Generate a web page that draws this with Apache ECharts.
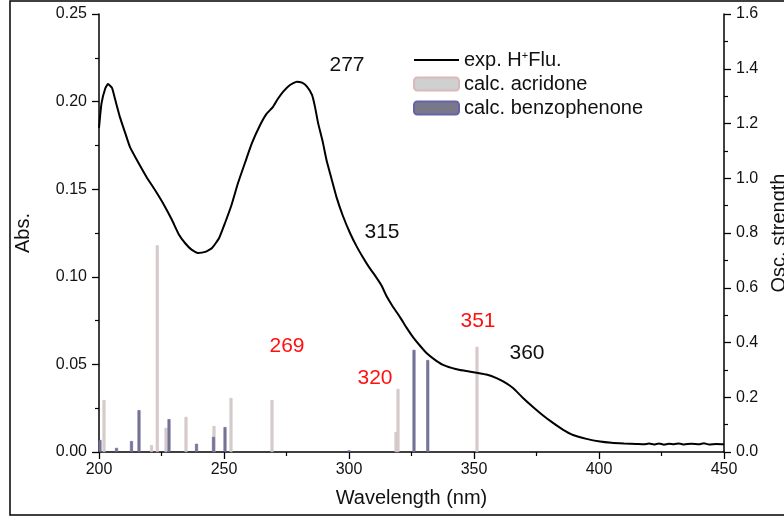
<!DOCTYPE html>
<html>
<head>
<meta charset="utf-8">
<script src="https://cdn.jsdelivr.net/npm/echarts@6/dist/echarts.min.js"></script>
<style>html,body{margin:0;padding:0;background:#fff;}#c{width:784px;height:519px;}</style>
</head>
<body>
<div id="c"></div>
<script>
// Experimental absorption spectrum (wavelength nm, Abs.)
const wavelengths = [200,201,202.5,203.6,205.2,206.5,208.4,210.5,212.4,215.6,219,222.4,226,229.2,232,234.4,237,239.6,242.5,245.2,248,250.4,253,255.6,258.5,261.2,264.4,267,269.6,271.5,273.6,276.4,279.1,281.2,283.2,285.2,286.4,287.6,289.5,291,293,295,297.5,300.4,303,305.6,308,310.5,313,315,317.5,320.4,323,325.6,328.5,331,334,337.6,341,344.4,348,351.6,355,359,362,365.6,369.5,373.6,377.5,381.6,385.5,389.6,395,400.4,405,410,415,418,420,422,424,426,428,430,432,434,437,440,442,444,447,450];
const absorbance  = [0.185,0.199,0.2075,0.210,0.2078,0.201,0.191,0.182,0.174,0.1655,0.157,0.1495,0.141,0.1324,0.124,0.1193,0.1155,0.1136,0.1142,0.1164,0.122,0.1307,0.141,0.1535,0.1655,0.1764,0.1865,0.193,0.197,0.2015,0.2056,0.2095,0.2114,0.2108,0.2085,0.2038,0.197,0.188,0.177,0.1667,0.156,0.1455,0.135,0.125,0.1175,0.111,0.1055,0.1005,0.095,0.089,0.083,0.077,0.071,0.0656,0.0605,0.0565,0.053,0.0497,0.048,0.0468,0.046,0.0451,0.0442,0.0422,0.040,0.0365,0.031,0.0257,0.021,0.0166,0.0128,0.0097,0.0075,0.006,0.0053,0.0049,0.0046,0.0044,0.0048,0.0043,0.0049,0.0042,0.0047,0.0044,0.0049,0.0043,0.0047,0.0044,0.0050,0.0043,0.0046,0.0044];

// Calculated transitions (wavelength nm, oscillator strength)
const acridoneNm  = [202,221,223.3,226.8,234.8,246,252.8,269.2,318.8,319.6,351.2];
const acridoneOsc = [0.19,0.025,0.755,0.088,0.128,0.095,0.197,0.19,0.073,0.23,0.384];
const benzoNm     = [200.4,207,213,216,228,239,245.8,250.4,300,326,331.5];
const benzoOsc    = [0.044,0.015,0.04,0.153,0.12,0.03,0.055,0.091,0.006,0.373,0.336];

// Peak annotations (wavelength nm, Abs. position)
const blackLabels = ['277','315','360'];
const blackLabelNm = [299.2,313.2,371.2];
const blackLabelAbs = [0.2209,0.1256,0.0565];
const redLabels = ['269','320','351'];
const redLabelNm = [275.2,310.4,351.6];
const redLabelAbs = [0.0605,0.0422,0.0748];

// Axis ticks
const xTicks = {min:200, max:450, interval:50};
const absTicks = {min:0, max:0.25, interval:0.05};
const oscTicks = {min:0, max:1.6, interval:0.2};

const pairs = (xs, ys) => xs.map((x,i)=>[x, ys[i]]);
const labelPts = (names, xs, ys) => names.map((n,i)=>({name:n, value:[xs[i], ys[i]]}));

const chart = echarts.init(document.getElementById('c'));
const txt = '#111';
const FF = 'Liberation Sans, Arial';
const axisCommon = {
  axisLine:{show:true, lineStyle:{color:'#000', width:1.5}},
  axisTick:{show:true, inside:false, length:7, lineStyle:{color:'#000', width:1.3}},
  minorTick:{show:true, splitNumber:2, length:4, lineStyle:{color:'#000', width:1.2}},
  splitLine:{show:false},
  nameTextStyle:{fontFamily:FF, fontSize:20, color:txt}
};
chart.setOption({
  animation:false,
  backgroundColor:'#fff',
  grid:{left:99, right:60, top:14, bottom:67, outerBoundsMode:'none', containLabel:false},
  legend:{
    orient:'vertical', left:413, top:50, padding:0, itemWidth:45, itemHeight:13, itemGap:4,
    data:[{name:'exp. H+Flu.', itemStyle:{opacity:0}}, 'calc. acridone', 'calc. benzophenone'],
    formatter: n => n === 'exp. H+Flu.' ? 'exp. H{s|+}Flu.' : n,
    textStyle:{fontFamily:FF, fontSize:20, color:txt,
      rich:{s:{fontSize:11, fontFamily:FF, color:txt, padding:[0,0,9,0]}}}
  },
  xAxis:Object.assign({}, axisCommon, {
    type:'value', min:xTicks.min, max:xTicks.max, interval:xTicks.interval,
    name:'Wavelength (nm)', nameLocation:'middle', nameGap:36,
    axisLabel:{fontFamily:FF, fontSize:16, color:txt, margin:10}
  }),
  yAxis:[
    Object.assign({}, axisCommon, {
      type:'value', position:'left', min:absTicks.min, max:absTicks.max, interval:absTicks.interval,
      name:'Abs.', nameLocation:'middle', nameGap:66,
      axisLabel:{fontFamily:FF, fontSize:16, color:txt, margin:12, formatter:v=>v.toFixed(2)}
    }),
    Object.assign({}, axisCommon, {
      type:'value', position:'right', min:oscTicks.min, max:oscTicks.max, interval:oscTicks.interval,
      name:'Osc. strength', nameLocation:'middle', nameGap:36,
      axisLabel:{fontFamily:FF, fontSize:16, color:txt, margin:12, formatter:v=>v.toFixed(1)}
    })
  ],
  series:[
    {
      name:'calc. acridone', type:'bar', yAxisIndex:1, barWidth:3, barGap:'-100%',
      data:pairs(acridoneNm, acridoneOsc),
      itemStyle:{color:'#cfd1d1', borderColor:'#dcb8b8', borderWidth:0.6},
      silent:true
    },
    {
      name:'calc. benzophenone', type:'bar', yAxisIndex:1, barWidth:3, barGap:'-100%',
      data:pairs(benzoNm, benzoOsc),
      itemStyle:{color:'#78788a', borderColor:'#6464a8', borderWidth:0.6},
      silent:true
    },
    {
      name:'exp. H+Flu.', type:'line', yAxisIndex:0, symbol:'none', smooth:0.15,
      data:pairs(wavelengths, absorbance),
      lineStyle:{color:'#000', width:2}, itemStyle:{color:'#000'}, z:5, silent:true
    },
    {
      name:'blackLabels', type:'scatter', yAxisIndex:0, symbolSize:1,
      itemStyle:{color:'rgba(0,0,0,0)', opacity:1}, silent:true, z:6,
      data:labelPts(blackLabels, blackLabelNm, blackLabelAbs),
      label:{show:true, position:'inside', formatter:p=>p.name, color:'#111', fontSize:21, fontFamily:FF}
    },
    {
      name:'redLabels', type:'scatter', yAxisIndex:0, symbolSize:1,
      itemStyle:{color:'rgba(0,0,0,0)', opacity:1}, silent:true, z:6,
      data:labelPts(redLabels, redLabelNm, redLabelAbs),
      label:{show:true, position:'inside', formatter:p=>p.name, color:'#ff1010', fontSize:21, fontFamily:FF}
    }
  ],
  graphic:[{type:'rect', shape:{x:10, y:1, width:800, height:514}, style:{fill:'none', stroke:'#000', lineWidth:1.5}, silent:true}]
});
</script>
</body>
</html>
